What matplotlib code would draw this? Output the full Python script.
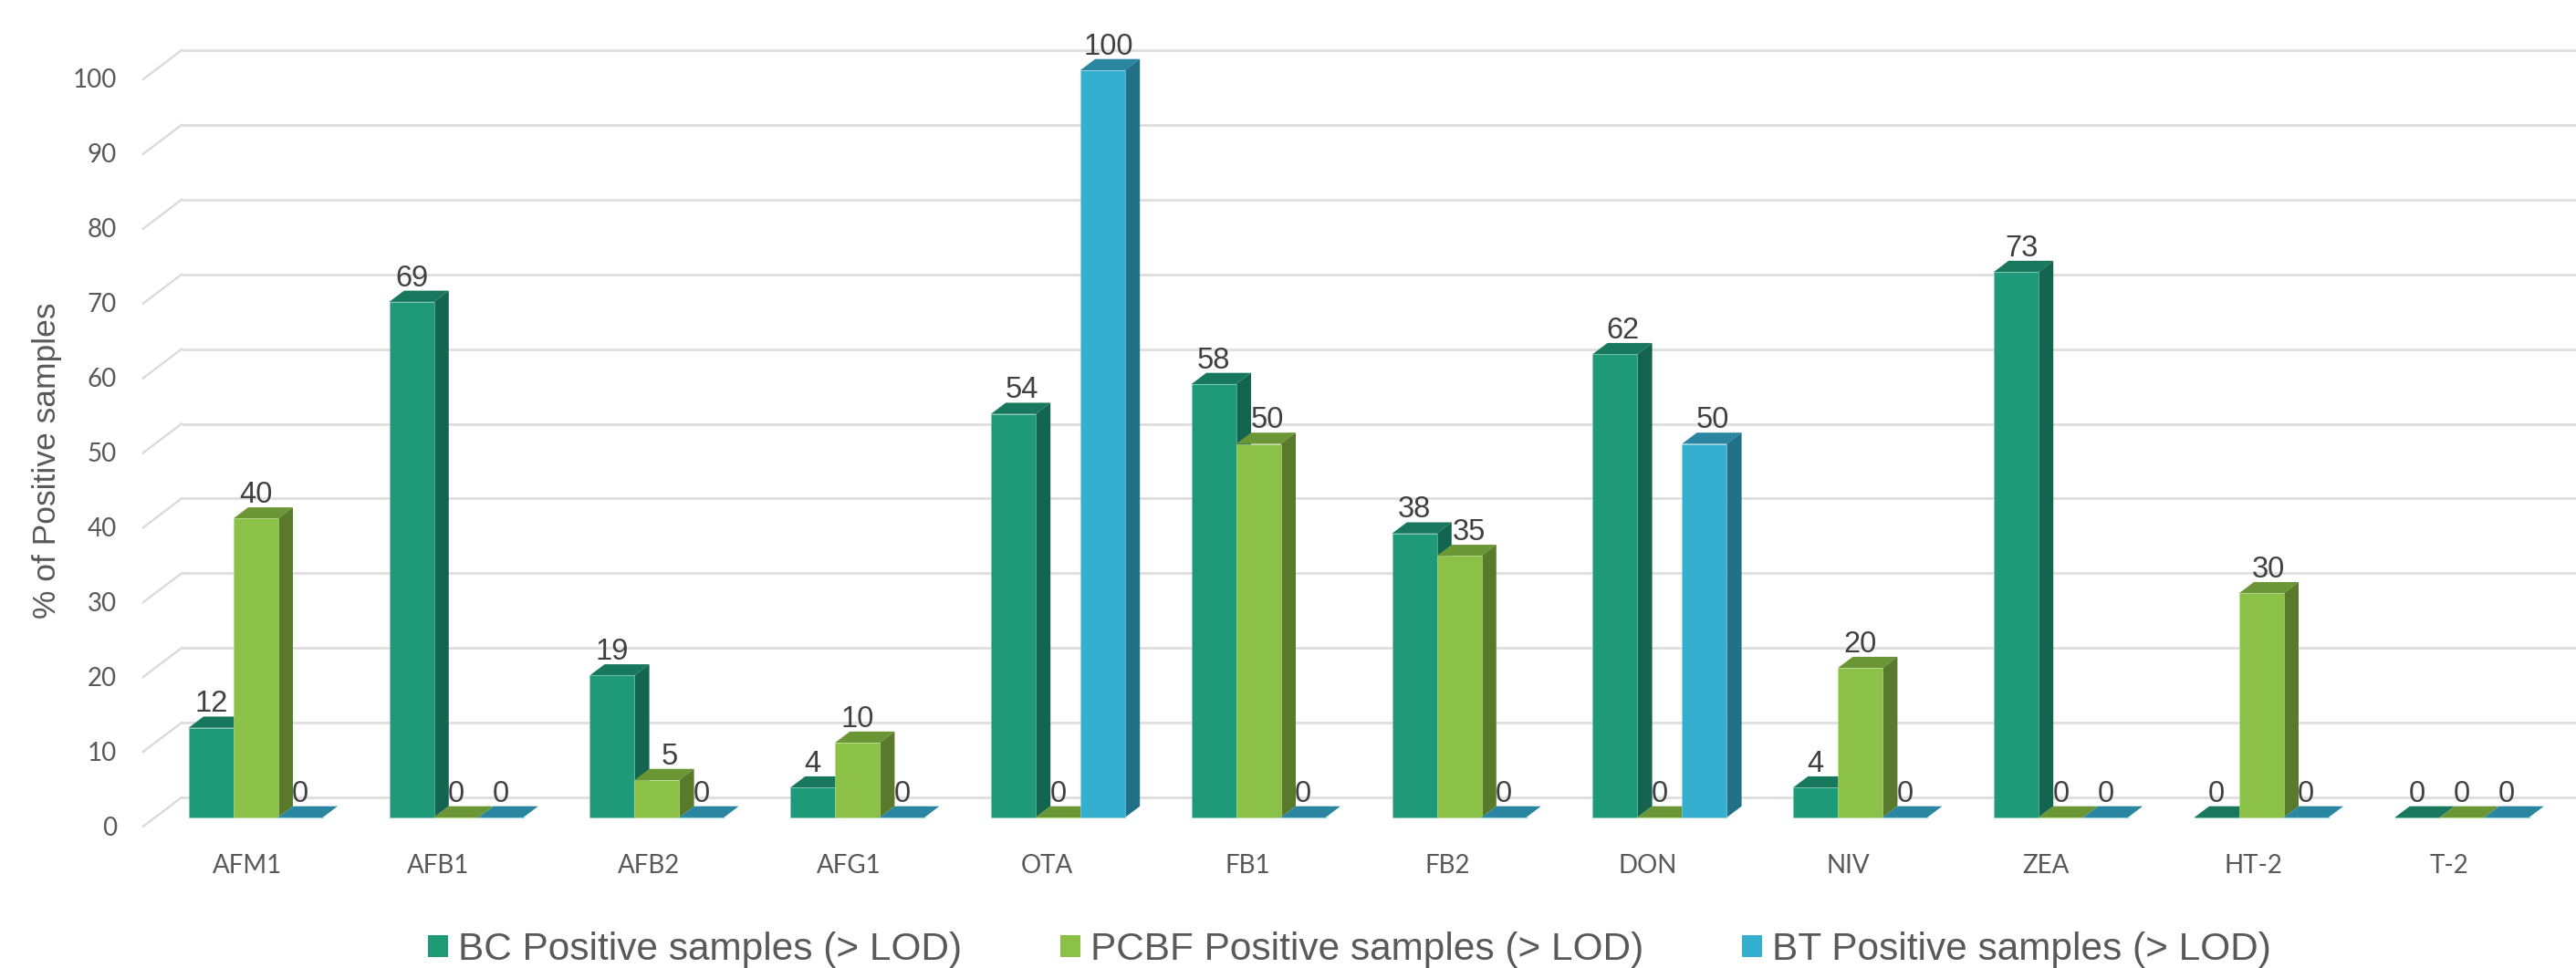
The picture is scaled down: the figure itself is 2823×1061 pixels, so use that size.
import matplotlib
matplotlib.use('Agg')
import matplotlib.pyplot as plt
from matplotlib.patches import Polygon, Patch
from matplotlib.transforms import ScaledTranslation

toxins = ['AFM1', 'AFB1', 'AFB2', 'AFG1', 'OTA', 'FB1', 'FB2', 'DON', 'NIV', 'ZEA', 'HT-2', 'T-2']
bc = [12, 69, 19, 4, 54, 58, 38, 62, 4, 73, 0, 0]
pcbf = [40, 0, 5, 10, 0, 50, 35, 0, 20, 0, 30, 0]
bt = [0, 0, 0, 0, 100, 0, 0, 50, 0, 0, 0, 0]
series_names = ['BC Positive samples (> LOD)', 'PCBF Positive samples (> LOD)', 'BT Positive samples (> LOD)']
yticks = list(range(0, 101, 10))

# front, top, side, edge
colors = [('#1e9a78', '#18785e', '#14654f', '#7cc8b2'),
          ('#8bc146', '#6b9636', '#5a7a2b', '#bcdc94'),
          ('#34afcf', '#2a86a0', '#217088', '#8fd3e6')]

# sideways shift of some value labels, pixels (group, series)
label_nudge = {(4, 0): 9, (4, 2): 6, (5, 1): 10, (6, 1): 11, (7, 0): 9, (7, 2): 9,
               (9, 0): 6, (10, 1): 8, (2, 1): 14}
# sideways shift of category labels, pixels
xlabel_nudge = [-9, -20, -9, -9, -12, -12, -13, -13, -13, -16, -9, -14]

W, H = 2823, 1061
DPI = 100
PX_X = 219.8      # pixels per category
PX_Y = 8.19       # pixels per percent
BAR = 49 / PX_X   # bar width
DX = 16.3 / PX_X  # bar depth
DY = 12.3 / PX_Y
left_px, right_px, top_px, base_px = 199, W, 77, 896
first_px = 280.2  # centre of first group

plt.rcParams['font.family'] = ['Liberation Sans', 'DejaVu Sans']
fig = plt.figure(figsize=(W / DPI, H / DPI), dpi=DPI)
ax = fig.add_axes([left_px / W, 1 - base_px / H, (right_px - left_px) / W, (base_px - top_px) / H])
ax.set_xlim((left_px - first_px) / PX_X, (right_px - first_px) / PX_X)
ax.set_ylim(0, 100)
for s in ax.spines.values():
    s.set_visible(False)

# walls
back = 22 / PX_Y
front = 10 / PX_Y
depth_x = 42.3 / PX_X
xmin, xmax = ax.get_xlim()
for v in yticks:
    ax.plot([xmin, xmax], [v + back, v + back], color='#dedede', lw=2, clip_on=False, zorder=1,
            solid_capstyle='butt')
    ax.plot([xmin - depth_x, xmin], [v - front, v + back], color='#d9d9d9', lw=1.6, clip_on=False, zorder=1)


def draw_bar(x0, v, cols, z):
    x1 = x0 + BAR
    f, t, s, e = cols
    top = [(x0, v), (x1, v), (x1 + DX, v + DY), (x0 + DX, v + DY)]
    ax.add_patch(Polygon(top, closed=True, fc=t, ec='none', clip_on=False, zorder=z))
    if v > 0:
        side = [(x1, 0), (x1 + DX, DY), (x1 + DX, v + DY), (x1, v)]
        ax.add_patch(Polygon(side, closed=True, fc=s, ec='none', clip_on=False, zorder=z))
        ax.bar(x0, v, width=BAR, align='edge', color=f, edgecolor=e, lw=0.4, clip_on=False, zorder=z)
    else:
        ax.plot([x0, x1], [0, 0], color=e, lw=0.8, clip_on=False, zorder=z)


z = 3
for i in range(len(toxins)):
    for j, vals in enumerate([bc, pcbf, bt]):
        v = vals[i]
        x0 = i - 1.5 * BAR + j * BAR
        draw_bar(x0, v, colors[j], z)
        z += 1
for i in range(len(toxins)):
    for j, vals in enumerate([bc, pcbf, bt]):
        v = vals[i]
        x = i - 1.5 * BAR + (j + 0.5) * BAR + label_nudge.get((i, j), 0) / PX_X
        ax.text(x, v + DY + 5 / PX_Y, str(v), ha='center', va='baseline', fontsize=23.5, color='#404040',
                clip_on=False, zorder=200)

ax.set_xticks(range(len(toxins)))
ax.set_xticklabels(toxins, family=['Lato', 'DejaVu Sans'], fontsize=20, color='#595959')
ax.set_yticks(yticks)
ax.set_yticklabels([str(v) for v in yticks], family=['Lato', 'DejaVu Sans'], fontsize=20, color='#595959')
ax.tick_params(axis='x', length=0, pad=29)
ax.tick_params(axis='y', length=0, pad=51)
for lab, n in zip(ax.get_xticklabels(), xlabel_nudge):
    lab.set_transform(lab.get_transform() + ScaledTranslation(n / DPI, 0, fig.dpi_scale_trans))
for lab in ax.get_yticklabels():
    lab.set_transform(lab.get_transform() + ScaledTranslation(0, -9 / DPI, fig.dpi_scale_trans))

ax.set_ylabel('% of Positive samples', fontsize=25.5, color='#595959')
ax.yaxis.set_label_coords((68 - left_px) / (right_px - left_px), (base_px - 505) / (base_px - top_px))

handles = [Patch(fc=c[0], ec='none') for c in colors]
fig.legend(handles, series_names, loc='center', bbox_to_anchor=(1479 / W, 1 - 1041 / H), ncol=3, frameon=False,
           fontsize=30.5, labelcolor='#595959', handlelength=0.52, handleheight=0.52, handletextpad=0.26,
           columnspacing=2.55, borderpad=0, borderaxespad=0)

fig.savefig('out.png', dpi=DPI)
